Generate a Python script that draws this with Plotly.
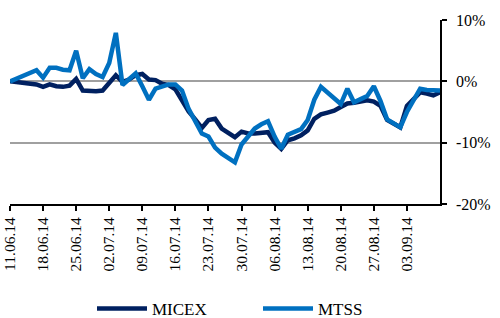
import plotly.graph_objects as go
import datetime as dt

# Trading days (weekdays) from 11.06.14 to 10.09.14
start = dt.date(2014, 6, 11)
dates = []
d = start
while d <= dt.date(2014, 9, 10):
    if d.weekday() < 5:
        dates.append(d.strftime("%d.%m.%y"))
    d += dt.timedelta(days=1)

micex = [0, -0.1, -0.2, -0.3, -0.5, -0.9, -0.5, -0.8, -0.9, -0.7,
         0.4, -1.5, -1.6, -1.6, -1.5, -0.1, 1.0, -0.1, 0.3, 1.0,
         1.2, 0.3, 0.2, -0.4, -0.6, -1.3, -3.0, -4.9, -6.2, -7.6,
         -6.3, -6.1, -7.7, -8.4, -9.1, -8.2, -8.5, -8.5, -8.4, -8.3,
         -10.0, -11.0, -9.6, -9.3, -8.8, -8.0, -6.1, -5.4, -5.1, -4.8,
         -4.2, -3.6, -3.5, -3.3, -3.1, -3.3, -4.0, -6.3, -7.0, -7.5,
         -4.0, -2.8, -1.8, -2.0, -2.3, -1.8]
mtss = [0, 0.5, 1.0, 1.4, 1.8, 0.6, 2.2, 2.2, 1.9, 1.8,
        5.0, 0.5, 2.0, 1.2, 0.7, 3.0, 7.9, -0.6, 0.3, 1.3,
        -0.8, -3.0, -1.2, -0.8, -0.5, -0.5, -1.5, -4.5, -6.5, -8.5,
        -9.0, -10.8, -11.8, -12.5, -13.2, -10.3, -9.0, -7.7, -7.0, -6.5,
        -9.0, -11.0, -8.7, -8.3, -7.8, -6.3, -3.0, -0.9, -1.8, -2.7,
        -3.7, -1.2, -3.4, -2.9, -2.4, -0.8, -3.2, -6.2, -6.8, -7.5,
        -5.0, -3.0, -1.2, -1.4, -1.5, -1.5]

tick_labels = dates[::5][:13]
y_ticks = [10, 0, -10, -20]
y_tick_text = ["10%", "0%", "-10%", "-20%"]

fig = go.Figure()
fig.add_trace(go.Scatter(x=dates, y=micex, mode="lines", name="MICEX",
                         line=dict(color="#002060", width=4.5)))
fig.add_trace(go.Scatter(x=dates, y=mtss, mode="lines", name="MTSS",
                         line=dict(color="#0070C0", width=4.5)))

font = "Liberation Serif, Times New Roman, serif"
fig.update_layout(
    width=500, height=318,
    margin=dict(l=10, r=60, t=20, b=114, autoexpand=False),
    paper_bgcolor="white", plot_bgcolor="white",
    font=dict(family=font, color="#000000"),
    showlegend=True,
    legend=dict(orientation="h", x=(92 - 10) / 430, xanchor="left",
                y=(204 - 309) / 184, yanchor="middle",
                font=dict(family=font, size=17), itemwidth=50,
                entrywidth=101, entrywidthmode="pixels"),
    xaxis=dict(type="category", range=[0, len(dates) - 1], automargin=False,
               tickmode="array", tickvals=tick_labels, ticktext=tick_labels,
               tickangle=-90, tickfont=dict(family=font, size=15.5),
               ticks="outside", ticklen=5, tickcolor="black", tickwidth=1.5,
               showline=True, linecolor="black", linewidth=2,
               showgrid=False, zeroline=False),
    yaxis=dict(side="right", range=[-20, 10], tickvals=y_ticks, ticktext=y_tick_text,
               automargin=False, ticklabelstandoff=6,
               tickfont=dict(family=font, size=16),
               ticks="outside", ticklen=5, tickcolor="black", tickwidth=1.5,
               showline=True, linecolor="black", linewidth=1.5,
               showgrid=True, gridcolor="#A0A0A0", gridwidth=1.5,
               zeroline=False),
)

fig.write_html("out.html", config={"displayModeBar": False},
               post_script="document.body.style.margin='0';")
